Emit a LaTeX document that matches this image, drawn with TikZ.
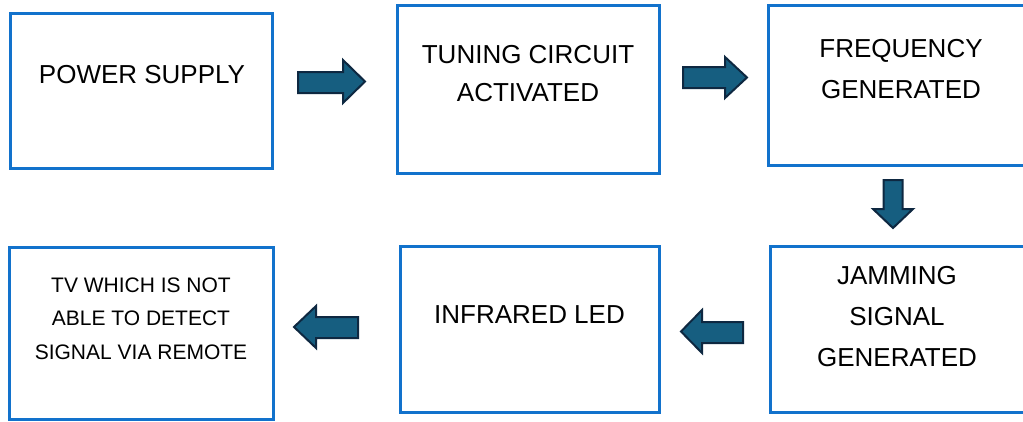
\documentclass[tikz,border=0pt]{standalone}
\usepackage{fontspec}
\setmainfont{Liberation Sans}
\definecolor{boxblue}{RGB}{18,114,204}
\definecolor{arrowfill}{RGB}{22,94,128}
\definecolor{arrowline}{RGB}{14,40,65}
\begin{document}
\begin{tikzpicture}[x=1pt,y=-1pt,
  box/.style={draw=boxblue,line width=3pt,fill=white,inner sep=0pt,outer sep=0pt},
  lbl/.style={align=center,inner sep=0pt,text=black},
  big/.style={font=\fontsize{26}{40}\selectfont},
  small/.style={font=\fontsize{21}{33.5}\selectfont},
  blockarrow/.style={fill=arrowfill,draw=arrowline,line width=2pt,line join=miter}]
\clip (0,0) rectangle (1023,421);
\fill[white] (0,0) rectangle (1023,421);
% boxes
\node[box,minimum width=262pt,minimum height=155pt] (b1) at (141.5,91) {};
\node[box,minimum width=262pt,minimum height=168pt] (b2) at (528,89.5) {};
\node[box,minimum width=264pt,minimum height=160pt] (b3) at (900,85.5) {};
\node[box,minimum width=264pt,minimum height=166pt] (b4) at (902,329.5) {};
\node[box,minimum width=259pt,minimum height=166pt] (b5) at (529.5,329.5) {};
\node[box,minimum width=264pt,minimum height=172pt] (b6) at (141,333) {};
% texts
\node[lbl,big] (t1) at (142,75) {POWER SUPPLY};
\node[lbl,font=\fontsize{26}{38}\selectfont] (t2) at (528,73.4) {TUNING CIRCUIT\\ACTIVATED};
\node[lbl,font=\fontsize{26}{41}\selectfont] (t3) at (901,69.5) {FREQUENCY\\GENERATED};
\node[lbl,font=\fontsize{26}{40.7}\selectfont] (t4) at (897,316.5) {JAMMING\\SIGNAL\\GENERATED};
\node[lbl,big] (t5) at (529.5,315) {INFRARED LED};
\node[lbl,small] (t6) at (141,318.5) {TV WHICH IS NOT\\ABLE TO DETECT\\SIGNAL VIA REMOTE};
% block arrows
\draw[blockarrow] (298,72) -- (343,72) -- (343,60) -- (365,81.5) -- (343,103) -- (343,93) -- (298,93) -- cycle;
\draw[blockarrow] (683,67) -- (725,67) -- (725,57) -- (747,77.5) -- (725,98) -- (725,88) -- (683,88) -- cycle;
\draw[blockarrow] (883.5,180) -- (902.5,180) -- (902.5,209) -- (913,209) -- (893,228) -- (873,209) -- (883.5,209) -- cycle;
\draw[blockarrow] (743,322) -- (702,322) -- (702,310) -- (681,331.5) -- (702,353) -- (702,343) -- (743,343) -- cycle;
\draw[blockarrow] (358,317) -- (316,317) -- (316,306) -- (294,327) -- (316,348) -- (316,338) -- (358,338) -- cycle;
\end{tikzpicture}
\end{document}
